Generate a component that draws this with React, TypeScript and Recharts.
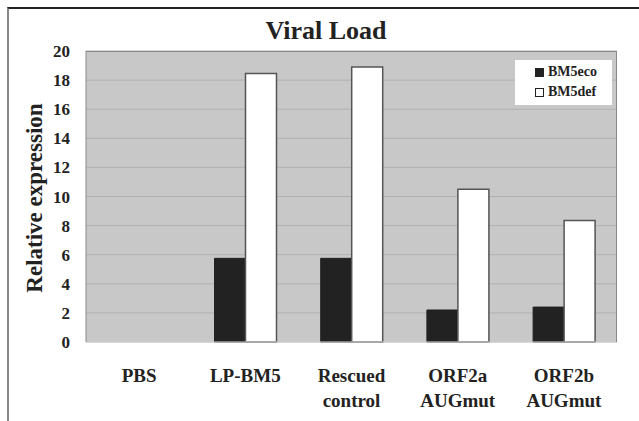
import React from 'react';
import {
  BarChart,
  Bar,
  XAxis,
  YAxis,
  CartesianGrid,
} from 'recharts';

const categories = ['PBS', 'LP-BM5', 'Rescued\ncontrol', 'ORF2a\nAUGmut', 'ORF2b\nAUGmut'];
const bm5eco = [0, 5.75, 5.75, 2.2, 2.4];
const bm5def = [0, 18.45, 18.9, 10.5, 8.35];
const yTicks = [0, 2, 4, 6, 8, 10, 12, 14, 16, 18, 20];
const seriesNames = ['BM5eco', 'BM5def'];

const data = categories.map((name, i) => ({
  name,
  BM5eco: bm5eco[i],
  BM5def: bm5def[i],
}));

const FONT = '"Liberation Serif", serif';

function CategoryTick(props: any) {
  const { x, y, payload } = props;
  const lines = String(payload.value).split('\n');
  return (
    <text
      x={x}
      y={y}
      textAnchor="middle"
      style={{ fontFamily: FONT, fontWeight: 'bold', fontSize: 19 }}
      fill="#222"
    >
      {lines.map((line, i) => (
        <tspan key={i} x={x} dy={i === 0 ? 36 : 25}>
          {line}
        </tspan>
      ))}
    </text>
  );
}

function LegendBox() {
  const fills = ['#222', '#fff'];
  return (
    <div
      style={{
        position: 'absolute',
        left: 515,
        top: 60,
        background: '#fff',
        width: 97,
        height: 45,
        fontFamily: FONT,
        fontWeight: 'bold',
        fontSize: 14,
        color: '#222',
        boxSizing: 'border-box',
        paddingTop: 2,
      }}
    >
      {seriesNames.map((label, i) => (
        <div
          key={label}
          style={{ display: 'flex', alignItems: 'center', height: 20, paddingLeft: 20 }}
        >
          <span
            style={{
              display: 'inline-block',
              width: 7,
              height: 7,
              background: fills[i],
              border: '1px solid #222',
              marginRight: 4,
            }}
          />
          {label}
        </div>
      ))}
    </div>
  );
}

export default function App() {
  return (
    <div style={{ position: 'relative', width: 639, height: 421, background: '#fff' }}>
      <style>{'body{margin:0}'}</style>
      <div
        style={{
          position: 'absolute',
          left: 7,
          top: 7,
          right: 0,
          bottom: 0,
          borderTop: '2px solid #222',
          borderLeft: '2px solid #888',
        }}
      />
      <div
        style={{
          position: 'absolute',
          left: 0,
          width: 652,
          top: 16,
          textAlign: 'center',
          fontFamily: FONT,
          fontWeight: 'bold',
          fontSize: 26,
          color: '#222',
        }}
      >
        Viral Load
      </div>
      <div
        style={{
          position: 'absolute',
          left: 35,
          top: 198,
          transform: 'translate(-50%, -50%) rotate(-90deg)',
          whiteSpace: 'nowrap',
          fontFamily: FONT,
          fontWeight: 'bold',
          fontSize: 23,
          color: '#222',
        }}
      >
        Relative expression
      </div>
      <div style={{ position: 'absolute', left: 0, top: 0 }}>
        <BarChart
          width={639}
          height={421}
          data={data}
          margin={{ top: 51, right: 22, bottom: 49, left: 46 }}
          barCategoryGap="21%"
          barGap={0}
        >
          <CartesianGrid
            vertical={false}
            fill="#c8c8c8"
            stroke="#b0b0b0"
          />
          <XAxis
            dataKey="name"
            height={30}
            tick={<CategoryTick />}
            tickLine={false}
            tickSize={4}
            tickMargin={0}
            axisLine={{ stroke: '#d8d8d8' }}
            interval={0}
          />
          <YAxis
            width={40}
            domain={[0, 20]}
            ticks={yTicks}
            interval={0}
            tickLine={false}
            axisLine={{ stroke: '#8a8a8a' }}
            tickMargin={10}
            tick={{ style: { fontFamily: FONT, fontWeight: 'bold', fontSize: 17 }, fill: '#222' }}
          />
          <Bar dataKey="BM5eco" fill="#222" stroke="#222" isAnimationActive={false} />
          <Bar dataKey="BM5def" fill="#fff" stroke="#555" strokeWidth={1.5} isAnimationActive={false} />
        </BarChart>
      </div>
      <LegendBox />
      <div
        style={{
          position: 'absolute',
          left: 86,
          top: 51,
          width: 531,
          height: 291,
          borderTop: '1px solid #8a8a8a',
          borderRight: '1px solid #8a8a8a',
          boxSizing: 'border-box',
          pointerEvents: 'none',
        }}
      />
    </div>
  );
}
